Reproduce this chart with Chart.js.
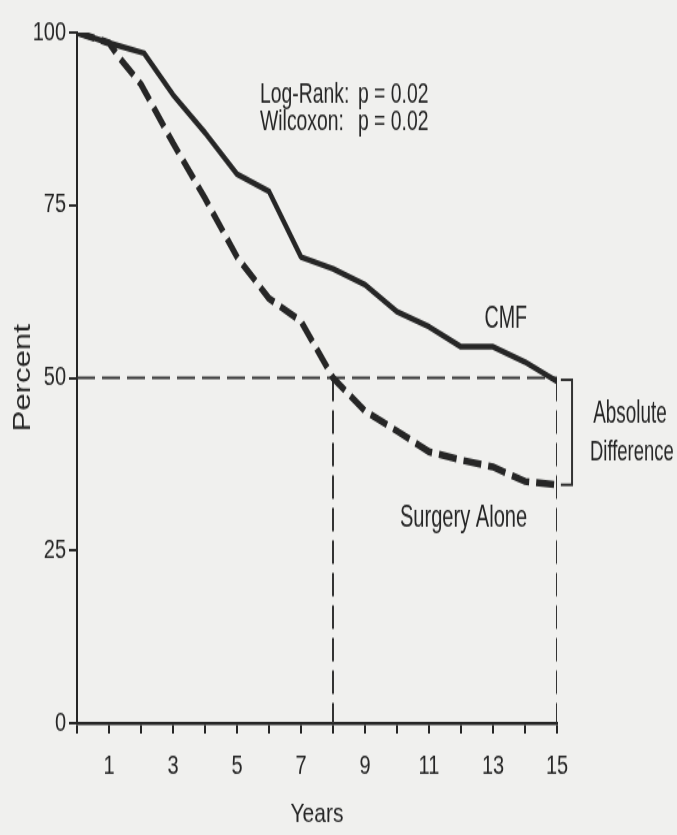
<!DOCTYPE html>
<html>
<head>
<meta charset="utf-8">
<script src="https://cdn.jsdelivr.net/npm/chart.js@4.4.1/dist/chart.umd.min.js"></script>
<style>
  html, body { margin: 0; padding: 0; background: #f0f0ee; }
  #page { width: 677px; height: 835px; }
  /* the scanned figure is stretched vertically: draw at 642px high and stretch to 835px */
  #wrap { width: 677px; height: 642px; transform: scaleY(1.3006); transform-origin: 0 0; }
  #survival { display: block; }
</style>
</head>
<body>
<div id="page"><div id="wrap"><canvas id="survival" width="677" height="642" style="width:677px;height:642px"></canvas></div></div>
<script>
// survival curves
var cmfYears = [0, 1, 2.1, 3, 4, 5, 6, 7, 8, 9, 10, 11, 12, 13, 14, 15];
var cmfPct = [100, 98.5, 97, 91, 85.5, 79.5, 77, 67.5, 65.8, 63.5, 59.6, 57.4, 54.5, 54.5, 52.3, 49.5];

var surgeryYears = [0, 1, 1.3, 2, 3, 4, 5, 6, 7, 8, 9, 10, 11, 12, 13, 14, 15];
var surgeryPct = [100, 98.5, 96.5, 92.5, 84, 76, 67.5, 61.5, 58.2, 50, 45.2, 42.3, 39.3, 38.1, 37.1, 35, 34.5];

// median line at 50% and the 15 year difference
var medianPct = 50;
var medianYear = 8;
var lastYear = 15;
var bracketYears = [15.12, 15.47, 15.47, 15.12];
var bracketPct = [49.7, 49.7, 34.5, 34.5];

var yTicks = [0, 25, 50, 75, 100];
var xLabelYears = [1, 3, 5, 7, 9, 11, 13, 15];

var ink = '#262626';

function pts(xs, ys) {
    return xs.map(function (x, i) { return { x: x, y: ys[i] }; });
}

var family = "'Liberation Sans', sans-serif";

// text labels placed in data units: [text, year, pct, align, size, squeeze]
var notes = [
    ['Log-Rank:', 5.72, 89.9, 'left', 21.5, 0.9],
    ['p = 0.02', 8.78, 89.9, 'left', 21.5, 0.9],
    ['Wilcoxon:', 5.72, 85.9, 'left', 21.5, 0.9],
    ['p = 0.02', 8.78, 85.9, 'left', 21.5, 0.9],
    ['CMF', 13.4, 57.2, 'center', 24, 0.82],
    ['Surgery Alone', 12.08, 28.4, 'center', 24.5, 0.82],
    ['Absolute', 17.28, 43.5, 'center', 23, 0.82],
    ['Difference', 17.34, 38.1, 'center', 22.5, 0.82]
];

var notePlugin = {
    id: 'notes',
    afterDatasetsDraw: function (chart) {
        var ctx = chart.ctx;
        var xs = chart.scales.x, ys = chart.scales.y;
        ctx.save();
        ctx.fillStyle = ink;
        ctx.textBaseline = 'alphabetic';
        notes.forEach(function (n) {
            var px = xs.getPixelForValue(n[1]);
            var py = ys.getPixelForValue(n[2]);
            ctx.save();
            ctx.font = n[4] + 'px ' + family;
            ctx.textAlign = n[3];
            ctx.translate(px, py);
            ctx.scale(n[5], 1);
            ctx.fillText(n[0], 0, 0);
            ctx.restore();
        });
        ctx.restore();
    }
};

var tickFont = { family: family, size: 20 };

var myChart = new Chart(document.getElementById('survival'), {
    type: 'line',
    data: {
        datasets: [
            {
                label: 'CMF',
                data: pts(cmfYears, cmfPct),
                borderColor: ink,
                borderWidth: 4.5,
                borderJoinStyle: 'round',
                pointRadius: 0,
                tension: 0
            },
            {
                label: 'Surgery Alone',
                data: pts(surgeryYears, surgeryPct),
                borderColor: ink,
                borderWidth: 5.5,
                borderDash: [18, 7],
                pointRadius: 0,
                tension: 0
            },
            {
                label: 'median',
                data: pts([0, lastYear], [medianPct, medianPct]),
                borderColor: '#333',
                borderWidth: 2,
                borderDash: [18, 7],
                pointRadius: 0
            },
            {
                label: 'median year',
                data: pts([medianYear, medianYear], [medianPct, 0]),
                borderColor: '#333',
                borderWidth: 2,
                borderDash: [18, 7],
                pointRadius: 0
            },
            {
                label: 'last year',
                data: pts([lastYear, lastYear], [medianPct, 0]),
                borderColor: '#333',
                borderWidth: 2,
                borderDash: [18, 7],
                pointRadius: 0
            },
            {
                label: 'difference',
                data: pts(bracketYears, bracketPct),
                borderColor: '#333',
                borderWidth: 2,
                pointRadius: 0,
                clip: false
            }
        ]
    },
    options: {
        responsive: false,
        animation: false,
        devicePixelRatio: 1,
        layout: { padding: { left: 0, right: 120, top: 25, bottom: 0 } },
        plugins: {
            legend: { display: false },
            tooltip: { enabled: false }
        },
        scales: {
            x: {
                type: 'linear',
                min: 0,
                max: 15,
                afterFit: function (scale) { scale.height = 86; },
                border: { display: true, color: ink, width: 2.5 },
                grid: { drawOnChartArea: false, drawTicks: true, tickLength: 8, color: ink, lineWidth: 2 },
                ticks: {
                    stepSize: 1,
                    autoSkip: false,
                    maxRotation: 0,
                    padding: 13,
                    color: ink,
                    font: tickFont,
                    callback: function (v) { return xLabelYears.indexOf(v) >= 0 ? String(v) : ''; }
                },
                title: {
                    display: true,
                    text: 'Years',
                    color: ink,
                    font: { family: family, size: 21 },
                    padding: { top: 0, bottom: 3 }
                }
            },
            y: {
                min: 0,
                max: 100,
                afterFit: function (scale) { scale.width = 77; },
                afterBuildTicks: function (scale) {
                    scale.ticks = yTicks.map(function (v) { return { value: v }; });
                },
                border: { display: true, color: ink, width: 2 },
                grid: { drawOnChartArea: false, drawTicks: true, tickLength: 8, color: ink, lineWidth: 2 },
                ticks: {
                    padding: 3,
                    color: ink,
                    font: tickFont
                },
                title: {
                    display: true,
                    text: 'Percent',
                    color: ink,
                    font: { family: family, size: 24 },
                    padding: { top: 9, bottom: 0 }
                }
            }
        }
    },
    plugins: [notePlugin]
});
</script>
</body>
</html>
